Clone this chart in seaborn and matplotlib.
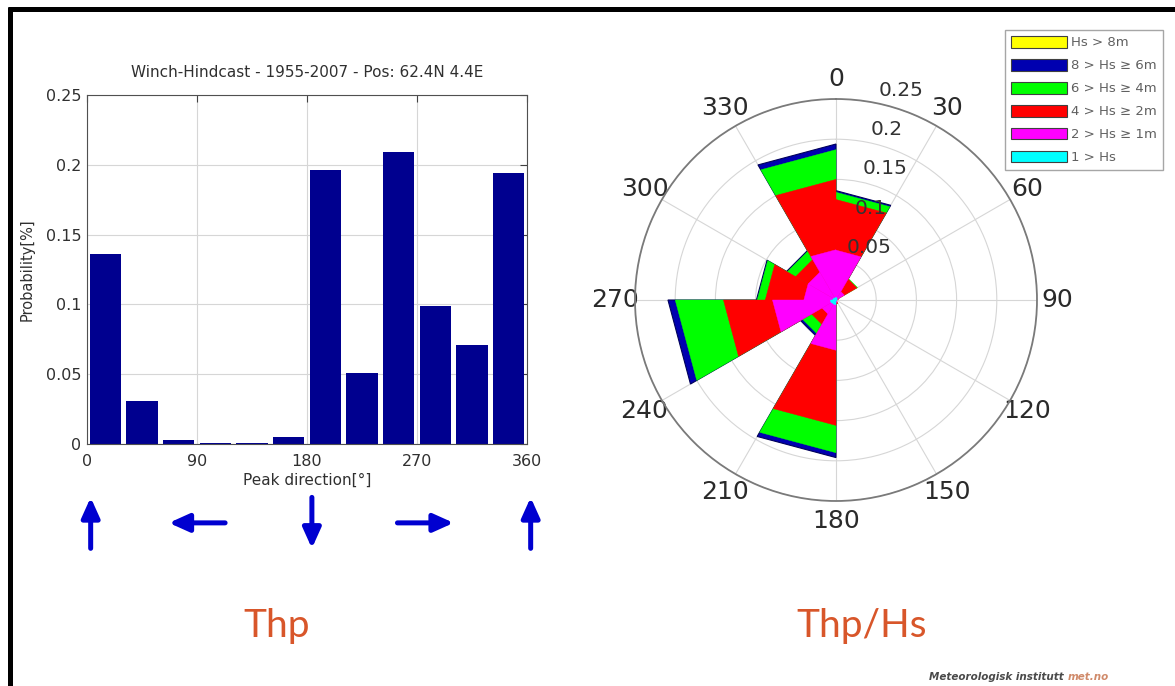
import numpy as np
import matplotlib
matplotlib.use("Agg")
import matplotlib.pyplot as plt
import seaborn as sns
import pandas as pd
from matplotlib.patches import Patch
from matplotlib.lines import Line2D

# ---------------- data ----------------
bar_centers = [15, 45, 75, 105, 135, 165, 195, 225, 255, 285, 315, 345]
bar_prob = [0.136, 0.031, 0.003, 0.001, 0.001, 0.005, 0.196, 0.051, 0.209, 0.099, 0.071, 0.194]
xticks = [0, 90, 180, 270, 360]
yticks = [0, 0.05, 0.1, 0.15, 0.2, 0.25]
ytick_labels = ["0", "0.05", "0.1", "0.15", "0.2", "0.25"]

# rose sectors (30 deg bins starting at 0 deg), probability per Hs class
sector_start = [0, 30, 60, 90, 120, 150, 180, 210, 240, 270, 300, 330]
p_hs_0_1 = [0.003, 0.002, 0.001, 0.0005, 0.0005, 0.001, 0.006, 0.006, 0.007, 0.004, 0.003, 0.003]
p_hs_1_2 = [0.059, 0.010, 0.001, 0.0005, 0.0005, 0.002, 0.0565, 0.014, 0.072, 0.036, 0.037, 0.0595]
p_hs_2_4 = [0.063, 0.018, 0.001, 0.0, 0.0, 0.002, 0.0935, 0.015, 0.061, 0.048, 0.018, 0.0875]
p_hs_4_6 = [0.009, 0.001, 0.0, 0.0, 0.0, 0.0, 0.034, 0.013, 0.060, 0.010, 0.012, 0.037]
p_hs_6_8 = [0.002, 0.0, 0.0, 0.0, 0.0, 0.0, 0.006, 0.003, 0.009, 0.001, 0.001, 0.007]
p_hs_8_up = [0.0] * 12

hs_labels = ["Hs > 8m", "8 > Hs \u2265 6m", "6 > Hs \u2265 4m",
             "4 > Hs \u2265 2m", "2 > Hs \u2265 1m", "1 > Hs"]
hs_colors = ["#FFFF00", "#0000B0", "#00FF00", "#FF0000", "#FF00FF", "#00FFFF"]

theta_ticks = list(range(0, 360, 30))
r_ticks = [0.05, 0.1, 0.15, 0.2, 0.25]
r_tick_labels = ["0.05", "0.1", "0.15", "0.2", "0.25"]

# direction arrows below the bar chart: nominal direction and x position (deg)
arrow_dirs = [0, 90, 180, 270, 360]
arrow_x = [3, 90, 184, 277, 363]

# ---------------- figure ----------------
sns.set_style("white")
plt.rcParams["font.family"] = ["DejaVu Sans"]
W, H = 1175, 686
fig = plt.figure(figsize=(W / 100, H / 100), dpi=100)
fig.patch.set_facecolor("white")

txt = "#303030"

# ---- bar chart ----
ax1 = fig.add_axes([87 / W, 1 - 444 / H, 440 / W, 349 / H])
df = pd.DataFrame({"direction": bar_centers, "prob": bar_prob})
sns.barplot(data=df, x="direction", y="prob", native_scale=True, orient="v",
            width=0.85, color="#00008F", saturation=1, ax=ax1,
            edgecolor="none", errorbar=None)
ax1.set_xlim(0, 360)
ax1.set_ylim(0, 0.25)
ax1.set_xticks(xticks)
ax1.set_xticklabels([str(v) for v in xticks])
ax1.set_yticks(yticks)
ax1.set_yticklabels(ytick_labels)
ax1.set_axisbelow(True)
ax1.grid(True, color="#D6D6D6", lw=0.8, ls="-")
ax1.tick_params(direction="in", length=5, color="#404040", labelsize=11.5,
                labelcolor=txt, top=True, right=True, pad=4)
ax1.tick_params(axis="x", pad=7)
for sp in ax1.spines.values():
    sp.set_color("#505050")
    sp.set_linewidth(0.8)
ax1.set_xlabel("Peak direction[\u00b0]", fontsize=11, color=txt, labelpad=3)
ax1.set_ylabel("Probability[%]", fontsize=10.5, color=txt, labelpad=8)
ax1.set_title("Winch-Hindcast - 1955-2007 - Pos: 62.4N 4.4E", fontsize=11,
              color=txt, pad=13)

arrow_y = -0.226
half_v = 0.073
half_h = 23
for d, xc in zip(arrow_dirs, arrow_x):
    vx = -np.sin(np.deg2rad(d))
    vy = np.cos(np.deg2rad(d))
    x0, x1 = xc - vx * half_h, xc + vx * half_h
    y0, y1 = arrow_y - vy * half_v, arrow_y + vy * half_v
    ax1.annotate("", xy=(x1, y1), xytext=(x0, y0),
                 xycoords=("data", "axes fraction"),
                 textcoords=("data", "axes fraction"),
                 annotation_clip=False,
                 arrowprops=dict(arrowstyle="-|>,head_length=0.6,head_width=0.27",
                                 lw=3.6, color="#0000D0", mutation_scale=20,
                                 shrinkA=0, shrinkB=0))

# ---- rose ----
R = 201
ax2 = fig.add_axes([(836 - R) / W, 1 - (300 + R) / H, 2 * R / W, 2 * R / H],
                   projection="polar")
ax2.set_theta_zero_location("N")
ax2.set_theta_direction(-1)
ax2.set_ylim(0, 0.25)

classes_low_to_high = [p_hs_0_1, p_hs_1_2, p_hs_2_4, p_hs_4_6, p_hs_6_8, p_hs_8_up]
colors_low_to_high = hs_colors[::-1]
cum = np.cumsum(np.array(classes_low_to_high), axis=0)
for k in range(len(classes_low_to_high) - 1, -1, -1):
    for i, s in enumerate(sector_start):
        r = cum[k, i]
        if r <= 0 or (classes_low_to_high[k][i] <= 0 and k > 0):
            continue
        t1, t2 = np.deg2rad(s), np.deg2rad(s + 30)
        edge = "#00005A" if k == 4 else colors_low_to_high[k]
        ax2.fill([0, t1, t2, 0], [0, r, r, 0], facecolor=colors_low_to_high[k],
                 edgecolor=edge, lw=0.8 if k == 4 else 0.3, zorder=3)

ax2.set_xticks(np.deg2rad(theta_ticks))
ax2.set_xticklabels([str(t) for t in theta_ticks], fontsize=18, color="#2A2A2A")
ax2.tick_params(axis="x", pad=4)
ax2.set_yticks(r_ticks)
ax2.set_yticklabels([])
ax2.grid(True, color="#D6D6D6", lw=0.8, ls="-")
ax2.spines["polar"].set_color("#7A7A7A")
ax2.spines["polar"].set_linewidth(1.3)
for rt, rl in zip(r_ticks, r_tick_labels):
    ax2.text(np.deg2rad(11.5), rt + 0.0165, rl, ha="left", va="center",
             fontsize=14.5, color="#333333", zorder=10)

# legend
handles = [Patch(facecolor=c, edgecolor="#404040", lw=0.8) for c in hs_colors]
leg = fig.legend(handles, hs_labels, loc="upper right",
                 bbox_to_anchor=(1163 / W, 1 - 30 / H), fontsize=9.5,
                 frameon=True, fancybox=False, edgecolor="#909090",
                 handlelength=4.2, handleheight=1.0, labelspacing=0.72,
                 borderpad=0.45, handletextpad=0.35, borderaxespad=0)
for t in leg.get_texts():
    t.set_color("#606060")
leg.get_frame().set_linewidth(1.0)

# captions
fig.text(277 / W, 1 - 637 / H, "Thp", fontsize=28, family=["Lato", "DejaVu Sans"],
         color="#D8562A", ha="center", va="baseline")
fig.text(862 / W, 1 - 637 / H, "Thp/Hs", fontsize=28, family=["Lato", "DejaVu Sans"],
         color="#D8562A", ha="center", va="baseline")
fig.text(1064 / W, 1 - 680 / H, "Meteorologisk institutt", fontsize=7.5,
         style="italic", weight="bold", color="#4A4A4A", ha="right", va="baseline")
fig.text(1068 / W, 1 - 680 / H, "met.no", fontsize=7.5, style="italic",
         weight="bold", color="#D08A6A", ha="left", va="baseline")

# frame lines of the slide
fig.add_artist(Line2D([7.6 / W, 1.0], [1 - 8.5 / H, 1 - 8.5 / H], lw=3.6,
                      color="black", solid_capstyle="butt",
                      transform=fig.transFigure))
fig.add_artist(Line2D([9.5 / W, 9.5 / W], [0, 1 - 6.6 / H], lw=3.6,
                      color="black", solid_capstyle="butt",
                      transform=fig.transFigure))

fig.savefig("out.png", dpi=100, facecolor="white")
